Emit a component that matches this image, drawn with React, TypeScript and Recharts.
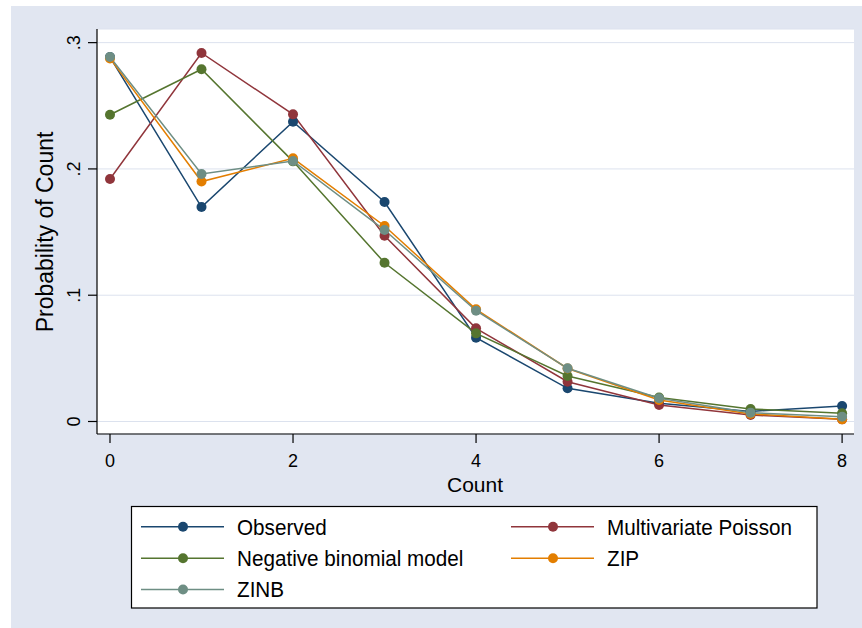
import { LineChart, Line, XAxis, YAxis, CartesianGrid } from "recharts";

const counts = [0, 1, 2, 3, 4, 5, 6, 7, 8];
const observed = [0.2886, 0.1698, 0.2374, 0.1738, 0.0664, 0.0263, 0.0144, 0.008, 0.0123];
const multivariatePoisson = [0.192, 0.2918, 0.2432, 0.1471, 0.0738, 0.0315, 0.0131, 0.0051, 0.0017];
const negBinomial = [0.2429, 0.2789, 0.206, 0.1257, 0.0698, 0.036, 0.019, 0.0099, 0.0065];
const zip = [0.2875, 0.19, 0.2084, 0.1548, 0.0888, 0.042, 0.017, 0.006, 0.0017];
const zinb = [0.2886, 0.196, 0.2063, 0.1516, 0.0877, 0.0421, 0.0184, 0.007, 0.0038];

const xTicks = [0, 2, 4, 6, 8];
const yTicks = [0, 0.1, 0.2, 0.3];

const series = [
  { key: "observed", name: "Observed", color: "#1A476F", values: observed },
  { key: "mp", name: "Multivariate Poisson", color: "#90353B", values: multivariatePoisson },
  { key: "nb", name: "Negative binomial model", color: "#55752F", values: negBinomial },
  { key: "zip", name: "ZIP", color: "#E37E00", values: zip },
  { key: "zinb", name: "ZINB", color: "#6E8E84", values: zinb },
];

const data = counts.map((c, i) => {
  const row: Record<string, number> = { count: c };
  series.forEach(s => { row[s.key] = s.values[i]; });
  return row;
});

const FONT = '"Liberation Sans", Arial, Helvetica, sans-serif';
const BG = "#E1E6F1";

const fmtY = (v: number) => (v === 0 ? "0" : "." + Math.round(v * 10));

const YTick = (props: any) => {
  const { x, y, payload } = props;
  return (
    <text transform={`translate(${x - 8},${y}) rotate(-90)`} textAnchor="middle" fontSize={18} fill="#000" fontFamily={FONT}>
      {fmtY(payload.value)}
    </text>
  );
};

const XTick = (props: any) => {
  const { x, y, payload } = props;
  return (
    <text x={x} y={y + 23.5} textAnchor="middle" fontSize={18} fill="#000" fontFamily={FONT}>
      {payload.value}
    </text>
  );
};

// legend rows: two columns, row-major
const legendCols = [
  { lineX1: 141, lineX2: 224, dotX: 183, textX: 237 },
  { lineX1: 511, lineX2: 594, dotX: 553, textX: 607 },
];
const legendRowY = [526.7, 558.3, 589.5];

export default function App() {
  return (
    <div style={{ position: "fixed", left: 0, top: 0, width: 862, height: 628, background: "#fff", overflow: "hidden" }}>
      <div style={{ position: "absolute", left: 11, top: 6, width: 851, height: 622, background: BG }} />
      <div style={{ position: "absolute", left: 0, top: 0 }}>
        <LineChart width={862} height={628} data={data} margin={{ top: 29, right: 8, left: 57, bottom: 154 }}>
          <CartesianGrid fill="#fff" vertical={false} stroke="#DCE2EE" strokeWidth={1} />
          <XAxis
            dataKey="count"
            type="number"
            domain={[-0.142, 8.13]}
            ticks={xTicks}
            allowDataOverflow
            height={40}
            tickSize={9}
            tickMargin={0}
            axisLine={{ stroke: "#000", strokeWidth: 1.2 }}
            tickLine={{ stroke: "#000", strokeWidth: 1.2 }}
            tick={<XTick />}
          />
          <YAxis
            type="number"
            domain={[-0.0099, 0.3108]}
            ticks={yTicks}
            allowDataOverflow
            width={40}
            tickSize={9}
            tickMargin={0}
            axisLine={{ stroke: "#000", strokeWidth: 1.2 }}
            tickLine={{ stroke: "#000", strokeWidth: 1.2 }}
            tick={<YTick />}
          />
          {series.map(s => (
            <Line
              key={s.key}
              type="linear"
              dataKey={s.key}
              name={s.name}
              stroke={s.color}
              strokeWidth={1.5}
              dot={{ r: 5, fill: s.color, stroke: s.color, strokeWidth: 0 }}
              activeDot={false}
              isAnimationActive={false}
            />
          ))}
        </LineChart>
      </div>

      <svg width={862} height={628} style={{ position: "absolute", left: 0, top: 0, pointerEvents: "none" }}>
        <text transform="translate(53,232) rotate(-90)" textAnchor="middle" fontSize={23} fill="#000" fontFamily={FONT}>
          Probability of Count
        </text>
        <text x={475} y={491.7} textAnchor="middle" fontSize={21} fill="#000" fontFamily={FONT}>
          Count
        </text>

        <rect x={131.5} y={506.5} width={685.5} height={101.5} fill="#fff" stroke="#000" strokeWidth={1.2} />
        {series.map((s, i) => {
          const col = legendCols[i % 2];
          const y = legendRowY[Math.floor(i / 2)];
          return (
            <g key={s.key}>
              <line x1={col.lineX1} x2={col.lineX2} y1={y} y2={y} stroke={s.color} strokeWidth={1.5} />
              <circle cx={col.dotX} cy={y} r={5} fill={s.color} />
              <text
                transform={`translate(${col.textX},${y + 7.8}) scale(0.94,1)`}
                fontSize={22}
                fill="#000"
                fontFamily={FONT}
              >
                {s.name}
              </text>
            </g>
          );
        })}
      </svg>
    </div>
  );
}
